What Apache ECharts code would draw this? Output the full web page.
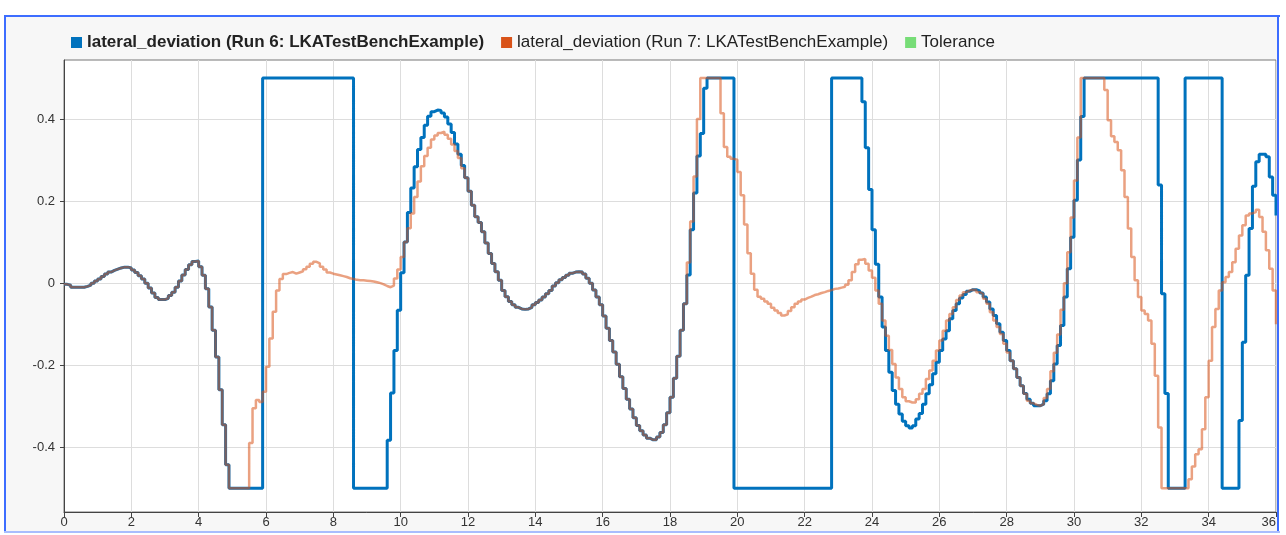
<!DOCTYPE html>
<html>
<head>
<meta charset="utf-8">
<script src="https://cdn.jsdelivr.net/npm/echarts@6/dist/echarts.min.js"></script>
<style>
  html, body { margin: 0; padding: 0; background: #ffffff; }
  #bg { position: absolute; left: 5px; top: 16px; width: 1274px; height: 517px; background: #f7f7f7; }
  #chart { position: absolute; left: 0; top: 0; width: 1286px; height: 535px; }
</style>
</head>
<body>
<div id="bg"></div>
<div id="chart"></div>
<script>
// Sample period of the logged signals (seconds)
const sampleStep = 0.1;

const seriesNames = [
  'lateral_deviation (Run 6: LKATestBenchExample)',
  'lateral_deviation (Run 7: LKATestBenchExample)',
  'Tolerance'
];

// Run 6 lateral deviation, one row per second (t = k.0 ... k.9)
const run6Values = [
  -0.003, -0.005, -0.01, -0.01, -0.01, -0.01, -0.008, -0.005, 0.0, 0.005,
  0.01, 0.016, 0.022, 0.027, 0.031, 0.034, 0.037, 0.039, 0.039, 0.037,
  0.032, 0.026, 0.018, 0.01, 0.0, -0.012, -0.024, -0.035, -0.04, -0.04,
  -0.037, -0.03, -0.022, -0.01, 0.005, 0.02, 0.033, 0.045, 0.053, 0.054,
  0.04, 0.019, -0.014, -0.058, -0.115, -0.18, -0.26, -0.345, -0.443, -0.5,
  -0.5, -0.5, -0.5, -0.5, -0.5, -0.5, -0.5, -0.5, -0.5, 0.5,
  0.5, 0.5, 0.5, 0.5, 0.5, 0.5, 0.5, 0.5, 0.5, 0.5,
  0.5, 0.5, 0.5, 0.5, 0.5, 0.5, 0.5, 0.5, 0.5, 0.5,
  0.5, 0.5, 0.5, 0.5, 0.5, 0.5, -0.5, -0.5, -0.5, -0.5,
  -0.5, -0.5, -0.5, -0.5, -0.5, -0.5, -0.383, -0.268, -0.164, -0.066,
  0.025, 0.1, 0.172, 0.232, 0.284, 0.326, 0.355, 0.385, 0.407, 0.418,
  0.422, 0.421, 0.415, 0.405, 0.388, 0.367, 0.339, 0.314, 0.287, 0.257,
  0.224, 0.19, 0.162, 0.148, 0.125, 0.098, 0.072, 0.048, 0.028, 0.007,
  -0.018, -0.033, -0.045, -0.053, -0.059, -0.063, -0.064, -0.063, -0.059, -0.053,
  -0.047, -0.041, -0.034, -0.026, -0.018, -0.007, 0.001, 0.008, 0.014, 0.019,
  0.024, 0.027, 0.028, 0.027, 0.022, 0.012, 0.0, -0.017, -0.034, -0.053,
  -0.08, -0.11, -0.14, -0.168, -0.198, -0.228, -0.257, -0.283, -0.307, -0.328,
  -0.347, -0.36, -0.37, -0.378, -0.382, -0.382, -0.375, -0.364, -0.345, -0.316,
  -0.278, -0.232, -0.178, -0.115, -0.05, 0.02, 0.13, 0.22, 0.31, 0.365,
  0.475, 0.5, 0.5, 0.5, 0.5, 0.5, 0.5, 0.5, 0.5, -0.5,
  -0.5, -0.5, -0.5, -0.5, -0.5, -0.5, -0.5, -0.5, -0.5, -0.5,
  -0.5, -0.5, -0.5, -0.5, -0.5, -0.5, -0.5, -0.5, -0.5, -0.5,
  -0.5, -0.5, -0.5, -0.5, -0.5, -0.5, -0.5, -0.5, 0.5, 0.5,
  0.5, 0.5, 0.5, 0.5, 0.5, 0.5, 0.5, 0.442, 0.33, 0.228,
  0.13, 0.046, -0.034, -0.107, -0.164, -0.217, -0.262, -0.295, -0.319, -0.337,
  -0.348, -0.353, -0.348, -0.331, -0.318, -0.295, -0.27, -0.248, -0.221, -0.193,
  -0.164, -0.136, -0.116, -0.087, -0.067, -0.05, -0.036, -0.028, -0.02, -0.016,
  -0.016, -0.019, -0.024, -0.034, -0.046, -0.063, -0.079, -0.099, -0.12, -0.14,
  -0.164, -0.189, -0.209, -0.23, -0.25, -0.269, -0.283, -0.293, -0.299, -0.299,
  -0.295, -0.287, -0.27, -0.238, -0.197, -0.152, -0.103, -0.034, 0.035, 0.112,
  0.202, 0.3, 0.406, 0.5, 0.5, 0.5, 0.5, 0.5, 0.5, 0.5,
  0.5, 0.5, 0.5, 0.5, 0.5, 0.5, 0.5, 0.5, 0.5, 0.5,
  0.5, 0.5, 0.5, 0.5, 0.5, 0.239, -0.026, -0.269, -0.5, -0.5,
  -0.5, -0.5, -0.5, 0.5, 0.5, 0.5, 0.5, 0.5, 0.5, 0.5,
  0.5, 0.5, 0.5, 0.5, -0.5, -0.5, -0.5, -0.5, -0.5, -0.335,
  -0.144, 0.019, 0.133, 0.236, 0.296, 0.314, 0.314, 0.308, 0.259, 0.214,
  0.165
];

// Run 7 lateral deviation, one row per second (t = k.0 ... k.9)
const run7Values = [
  -0.003, -0.005, -0.01, -0.01, -0.01, -0.01, -0.008, -0.005, 0.0, 0.005,
  0.01, 0.016, 0.022, 0.027, 0.031, 0.034, 0.037, 0.039, 0.039, 0.037,
  0.032, 0.026, 0.018, 0.01, 0.0, -0.012, -0.024, -0.035, -0.04, -0.04,
  -0.037, -0.03, -0.022, -0.01, 0.005, 0.02, 0.033, 0.045, 0.053, 0.054,
  0.04, 0.019, -0.014, -0.058, -0.115, -0.18, -0.26, -0.345, -0.443, -0.5,
  -0.5, -0.5, -0.5, -0.5, -0.5, -0.39, -0.305, -0.285, -0.29, -0.265,
  -0.204, -0.135, -0.07, -0.018, 0.01, 0.022, 0.025, 0.027, 0.023, 0.026,
  0.029, 0.034, 0.04, 0.047, 0.052, 0.048, 0.04, 0.033, 0.026, 0.023,
  0.021, 0.019, 0.017, 0.015, 0.012, 0.01, 0.008, 0.007, 0.007, 0.006,
  0.005, 0.004, 0.002, 0.0, -0.003, -0.007, -0.01, -0.006, 0.011, 0.033,
  0.064, 0.1, 0.134, 0.17, 0.21, 0.248, 0.285, 0.31, 0.33, 0.35,
  0.36, 0.366, 0.369, 0.362, 0.352, 0.338, 0.322, 0.305, 0.28, 0.257,
  0.224, 0.19, 0.162, 0.148, 0.125, 0.098, 0.072, 0.048, 0.028, 0.007,
  -0.018, -0.033, -0.045, -0.053, -0.059, -0.063, -0.064, -0.063, -0.059, -0.053,
  -0.047, -0.041, -0.034, -0.026, -0.018, -0.007, 0.001, 0.008, 0.014, 0.019,
  0.024, 0.027, 0.028, 0.027, 0.022, 0.012, 0.0, -0.017, -0.034, -0.053,
  -0.08, -0.11, -0.14, -0.168, -0.198, -0.228, -0.257, -0.283, -0.307, -0.328,
  -0.347, -0.36, -0.37, -0.378, -0.382, -0.382, -0.375, -0.364, -0.345, -0.316,
  -0.278, -0.232, -0.178, -0.115, -0.05, 0.05, 0.15, 0.26, 0.4, 0.5,
  0.5, 0.5, 0.5, 0.5, 0.5, 0.414, 0.332, 0.308, 0.303, 0.301,
  0.271, 0.214, 0.143, 0.073, 0.023, -0.016, -0.033, -0.038, -0.045, -0.05,
  -0.06, -0.067, -0.073, -0.079, -0.076, -0.068, -0.059, -0.05, -0.045, -0.04,
  -0.036, -0.033, -0.029, -0.027, -0.024, -0.022, -0.019, -0.017, -0.014, -0.013,
  -0.011, -0.009, -0.004, 0.007, 0.027, 0.046, 0.057, 0.059, 0.047, 0.031,
  0.013, -0.018, -0.05, -0.091, -0.128, -0.163, -0.197, -0.23, -0.258, -0.278,
  -0.288, -0.291, -0.291, -0.283, -0.27, -0.258, -0.234, -0.213, -0.189, -0.164,
  -0.14, -0.116, -0.091, -0.075, -0.059, -0.041, -0.03, -0.022, -0.018, -0.016,
  -0.017, -0.022, -0.026, -0.038, -0.05, -0.071, -0.091, -0.107, -0.124, -0.148,
  -0.169, -0.189, -0.209, -0.23, -0.25, -0.27, -0.287, -0.293, -0.297, -0.299,
  -0.295, -0.28, -0.258, -0.215, -0.17, -0.125, -0.065, 0.0, 0.075, 0.16,
  0.25, 0.355, 0.5, 0.5, 0.5, 0.5, 0.5, 0.5, 0.5, 0.471,
  0.397, 0.358, 0.344, 0.324, 0.275, 0.21, 0.133, 0.064, 0.007, -0.034,
  -0.067, -0.075, -0.091, -0.148, -0.226, -0.352, -0.5, -0.5, -0.5, -0.5,
  -0.5, -0.5, -0.5, -0.5, -0.478, -0.447, -0.417, -0.405, -0.356, -0.278,
  -0.189, -0.107, -0.063, -0.018, 0.002, 0.015, 0.027, 0.051, 0.084, 0.116,
  0.141, 0.165, 0.17, 0.173, 0.179, 0.161, 0.125, 0.08, 0.035, -0.018,
  -0.1
];

const xTicks = [0, 2, 4, 6, 8, 10, 12, 14, 16, 18, 20, 22, 24, 26, 28, 30, 32, 34, 36];
const yTicks = [-0.4, -0.2, 0, 0.2, 0.4];

const toPairs = vals => vals.map((v, i) => [Math.round(i * sampleStep * 10) / 10, v]);

const FONT = '"Liberation Sans", Arial, sans-serif';
const chart = echarts.init(document.getElementById('chart'), null, { renderer: 'canvas' });

chart.setOption({
  animation: false,
  backgroundColor: 'transparent',
  textStyle: { fontFamily: FONT },
  legend: {
    left: 66,
    top: 29,
    icon: 'rect',
    itemWidth: 11,
    itemHeight: 11,
    itemGap: 17,
    textStyle: { fontSize: 17, color: '#222', fontFamily: FONT },
    data: [
      { name: seriesNames[0], textStyle: { fontWeight: 'bold' } },
      { name: seriesNames[1] },
      { name: seriesNames[2] }
    ]
  },
  grid: {
    left: 64, right: 10, top: 60, bottom: 23,
    show: true, backgroundColor: '#ffffff', borderColor: '#777', borderWidth: 1
  },
  xAxis: {
    type: 'value', min: xTicks[0], max: xTicks[xTicks.length - 1], interval: 2,
    axisLine: { show: true, onZero: false, lineStyle: { color: '#444', width: 1 } },
    axisTick: { show: true, length: 5, lineStyle: { color: '#444' } },
    axisLabel: { fontSize: 13, color: '#333', margin: 4, fontFamily: FONT, alignMaxLabel: 'right' },
    splitLine: { show: true, lineStyle: { color: '#dddddd', width: 1 } }
  },
  yAxis: {
    type: 'value', min: -0.558, max: 0.544,
    axisLine: { show: true, onZero: false, lineStyle: { color: '#444', width: 1 } },
    axisTick: { show: true, length: 4, lineStyle: { color: '#444' }, customValues: yTicks },
    axisLabel: { fontSize: 13, color: '#333', margin: 9, fontFamily: FONT, customValues: yTicks },
    splitLine: { show: true, lineStyle: { color: '#dddddd', width: 1 } }
  },
  series: [
    {
      name: seriesNames[0], type: 'line', step: 'end', showSymbol: false,
      data: toPairs(run6Values),
      itemStyle: { color: '#0072BD' },
      lineStyle: { color: '#0072BD', width: 3 }
    },
    {
      name: seriesNames[1], type: 'line', step: 'end', showSymbol: false,
      data: toPairs(run7Values),
      itemStyle: { color: '#D95319' },
      lineStyle: { color: 'rgba(217,83,25,0.55)', width: 2.5 }
    },
    {
      name: seriesNames[2], type: 'line', showSymbol: false, data: [],
      itemStyle: { color: '#77DD77' }, lineStyle: { color: '#77DD77' }
    }
  ],
  graphic: [
    { type: 'rect', z: 100, silent: true, shape: { x: 1280, y: 0, width: 6, height: 535 }, style: { fill: '#ffffff' } },
    { type: 'rect', z: 101, silent: true, shape: { x: 4, y: 15, width: 2, height: 518 }, style: { fill: '#3d6dff' } },
    { type: 'rect', z: 101, silent: true, shape: { x: 4, y: 15, width: 1276, height: 2 }, style: { fill: '#3d6dff' } },
    { type: 'rect', z: 101, silent: true, shape: { x: 1277, y: 15, width: 2, height: 518 }, style: { fill: '#3d6dff' } },
    { type: 'rect', z: 101, silent: true, shape: { x: 4, y: 531, width: 1276, height: 2 }, style: { fill: '#a9bdfd' } }
  ]
});
</script>
</body>
</html>
